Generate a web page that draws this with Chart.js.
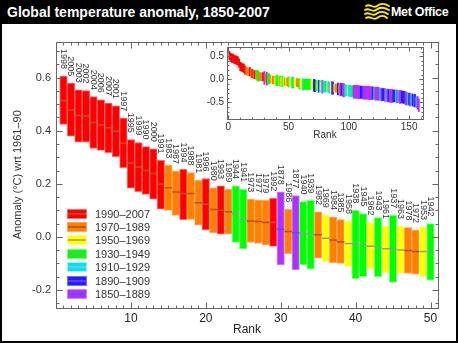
<!DOCTYPE html>
<html>
<head>
<meta charset="utf-8">
<title>Global temperature anomaly, 1850-2007</title>
<script src="https://cdn.jsdelivr.net/npm/chart.js@4.4.0/dist/chart.umd.min.js"></script>
<style>
  html, body { margin: 0; padding: 0; background: #000; }
  #page { position: relative; width: 458px; height: 343px; background: #000; overflow: hidden;
          font-family: "Liberation Sans", Arial, Helvetica, sans-serif; }
  #head { position: absolute; left: 0; top: 0; width: 458px; height: 24px; color: #fff; }
  #head .title { position: absolute; left: 7px; top: 4px; font-weight: bold; font-size: 14px; white-space: nowrap; }
  #head .logo { position: absolute; left: 364px; top: 3px; }
  #head .brand { position: absolute; left: 391px; top: 5px; font-weight: bold; font-size: 12.5px; letter-spacing: -0.3px; white-space: nowrap; }
  #panel { position: absolute; left: 2px; top: 24px; width: 454px; height: 317px; background: #fff; }
  #main { position: absolute; left: 0; top: 0; }
  #inset { position: absolute; left: 188px; top: 14px; }
</style>
</head>
<body>
<div id="page">
  <div id="head">
    <span class="title">Global temperature anomaly, 1850-2007</span>
    <svg class="logo" width="27" height="18" viewBox="0 0 27 18">
      <g fill="none" stroke="#ffee00" stroke-width="1.8" stroke-linecap="round">
        <path d="M2 3 C6 0, 9 6, 13 3 S20 0, 25 3"/>
        <path d="M1 7 C5 4, 8 10, 12 7 S19 4, 25 7"/>
        <path d="M1 11 C5 8, 8 14, 12 11 S19 8, 24 11"/>
        <path d="M2 15 C6 12, 9 18, 13 15 S20 12, 23 15"/>
      </g>
    </svg>
    <span class="brand">Met Office</span>
  </div>
  <div id="panel">
    <canvas id="main" width="454" height="317"></canvas>
    <canvas id="inset" width="245" height="104"></canvas>
  </div>
</div>
<script>
// ---- top 50 years, ranked warmest first ----
const rankYears = [1998, 2005, 2003, 2002, 2004, 2006, 2007, 2001, 1997, 1995,
                   1999, 1990, 2000, 1991, 1983, 1987, 1994, 1988, 1981, 1996,
                   1980, 1993, 1989, 1944, 1941, 1973, 1977, 1979, 1992, 1878,
                   1986, 1877, 1940, 1939, 1982, 1969, 1984, 1985, 1958, 1938,
                   1945, 1962, 1943, 1961, 1937, 1963, 1978, 1972, 1953, 1942];
const rankLow  = [0.424, 0.379, 0.357, 0.357, 0.333, 0.326, 0.317, 0.302, 0.261, 0.183,
                  0.170, 0.160, 0.142, 0.104, 0.100, 0.081, 0.065, 0.066, 0.044, 0.026,
                  0.016, 0.010, 0.010, -0.021, -0.045, -0.021, -0.025, -0.030, -0.036, -0.106,
                  -0.063, -0.124, -0.106, -0.121, -0.080, -0.093, -0.097, -0.100, -0.112, -0.157,
                  -0.150, -0.121, -0.150, -0.134, -0.172, -0.138, -0.138, -0.140, -0.150, -0.163];
const rankHigh = [0.606, 0.579, 0.554, 0.551, 0.528, 0.516, 0.504, 0.494, 0.447, 0.366,
                  0.355, 0.340, 0.332, 0.288, 0.270, 0.248, 0.254, 0.242, 0.213, 0.220,
                  0.185, 0.192, 0.179, 0.192, 0.179, 0.142, 0.139, 0.138, 0.145, 0.170,
                  0.104, 0.156, 0.133, 0.138, 0.094, 0.083, 0.075, 0.065, 0.060, 0.100,
                  0.088, 0.054, 0.073, 0.041, 0.081, 0.041, 0.035, 0.026, 0.037, 0.050];
const rankMid  = [0.514, 0.477, 0.457, 0.455, 0.431, 0.421, 0.411, 0.398, 0.353, 0.278,
                  0.263, 0.250, 0.239, 0.198, 0.185, 0.169, 0.163, 0.163, 0.129, 0.123,
                  0.103, 0.100, 0.095, 0.088, 0.066, 0.060, 0.058, 0.054, 0.054, 0.029,
                  0.020, 0.016, 0.012, 0.010, 0.008, -0.005, -0.012, -0.018, -0.025, -0.027,
                  -0.032, -0.035, -0.040, -0.045, -0.046, -0.049, -0.051, -0.055, -0.055, -0.057];
const yTickValues = [-0.2, 0.0, 0.2, 0.4, 0.6];
const xTickValues = [10, 20, 30, 40, 50];

// ---- every year 1850-2007 (inset) ----
const firstYear = 1850;
const annualAnom = [
  -0.44, -0.27, -0.27, -0.30, -0.29, -0.29, -0.36, -0.46, -0.41, -0.29,
  -0.36, -0.42, -0.56, -0.31, -0.51, -0.31, -0.29, -0.32, -0.29, -0.28,
  -0.30, -0.34, -0.28, -0.31, -0.37, -0.38, -0.35, 0.016, 0.029, -0.23,
  -0.24, -0.19, -0.22, -0.27, -0.38, -0.33, -0.30, -0.36, -0.27, -0.16,
  -0.36, -0.28, -0.36, -0.39, -0.35, -0.33, -0.15, -0.13, -0.30, -0.19,
  -0.14, -0.21, -0.33, -0.39, -0.45, -0.28, -0.22, -0.38, -0.43, -0.46,
  -0.42, -0.44, -0.36, -0.34, -0.16, -0.11, -0.32, -0.50, -0.37, -0.25,
  -0.24, -0.17, -0.26, -0.24, -0.25, -0.18, -0.07, -0.16, -0.15, -0.30,
  -0.11, -0.07, -0.11, -0.26, -0.11, -0.14, -0.11, -0.046, -0.027, 0.010,
  0.012, 0.066, -0.057, -0.040, 0.088, -0.032, -0.16, -0.10, -0.11, -0.11,
  -0.18, -0.07, -0.06, -0.055, -0.14, -0.15, -0.19, -0.06, -0.025, -0.07,
  -0.10, -0.045, -0.035, -0.049, -0.24, -0.16, -0.11, -0.10, -0.12, -0.005,
  -0.08, -0.19, -0.055, 0.060, -0.19, -0.07, -0.21, 0.058, -0.051, 0.054,
  0.103, 0.129, 0.008, 0.185, -0.012, -0.018, 0.020, 0.169, 0.163, 0.095,
  0.250, 0.198, 0.054, 0.100, 0.163, 0.278, 0.123, 0.353, 0.514, 0.263,
  0.239, 0.398, 0.455, 0.457, 0.431, 0.477, 0.421, 0.411
];
const insetXTicks = [0, 50, 100, 150];
const insetYTicks = [-0.5, 0.0, 0.5];

// ---- periods (key) ----
const periodLabels = ['1990–2007', '1970–1989', '1950–1969', '1930–1949', '1910–1929', '1890–1909', '1850–1889'];
const periodStart  = [1990, 1970, 1950, 1930, 1910, 1890, 1850];
const periodHalfWidth = [0.09, 0.085, 0.085, 0.11, 0.12, 0.13, 0.14];

// colours per period
const periodFill = ['#ff0000', '#ff7f00', '#ffff00', '#00ff00', '#00e4f0', '#1e1eff', '#b030ff'];
const periodEdge = ['#ff6a6a', '#ffaa5a', '#ffff8a', '#7cff7c', '#90f4ff', '#7070ff', '#d08cff'];
const periodLine = ['#c0501a', '#b84a0a', '#9aa060', '#80a880', '#7fc0ff', '#8040ff', '#5a4cff'];

const periodIndex = yr => periodStart.findIndex(s => yr >= s);

const FONT = '"Liberation Sans", Arial, Helvetica, sans-serif';
const INK = '#333';

// frame round the plot area with inward IDL-style ticks on all four sides
const frameTicks = {
  id: 'frameTicks',
  afterDraw(chart, args, o) {
    const {ctx, chartArea: a, scales: {x, y}} = chart;
    const L = Math.round(a.left) + 0.5, R = Math.round(a.right) + 0.5;
    const T = Math.round(a.top) + 0.5, B = Math.round(a.bottom) + 0.5;
    ctx.save();
    ctx.strokeStyle = o.color;
    ctx.lineWidth = 1;
    ctx.strokeRect(L, T, R - L, B - T);
    ctx.beginPath();
    const k0 = Math.ceil(y.min / o.yMinor - 1e-6), k1 = Math.floor(y.max / o.yMinor + 1e-6);
    for (let k = k0; k <= k1; k++) {
      const v = k * o.yMinor;
      const r = v / o.yMajor;
      const len = Math.abs(r - Math.round(r)) < 1e-6 ? o.major : o.minor;
      const py = Math.round(y.getPixelForValue(v)) + 0.5;
      ctx.moveTo(L, py); ctx.lineTo(L + len, py);
      ctx.moveTo(R, py); ctx.lineTo(R - len, py);
    }
    const j0 = Math.ceil(x.min / o.xMinor - 1e-6), j1 = Math.floor(x.max / o.xMinor + 1e-6);
    for (let j = j0; j <= j1; j++) {
      const v = j * o.xMinor;
      const r = v / o.xMajor;
      const len = Math.abs(r - Math.round(r)) < 1e-6 ? o.major : o.minor;
      const px = Math.round(x.getPixelForValue(v)) + 0.5;
      ctx.moveTo(px, B); ctx.lineTo(px, B - len);
      ctx.moveTo(px, T); ctx.lineTo(px, T + len);
    }
    ctx.stroke();
    ctx.restore();
  }
};

// year written above each bar, reading downwards
const yearLabels = {
  id: 'yearLabels',
  afterDatasetsDraw(chart) {
    const {ctx} = chart;
    const y = chart.scales.y;
    const bars = chart.getDatasetMeta(0).data;
    ctx.save();
    ctx.font = '9px ' + FONT;
    ctx.fillStyle = INK;
    ctx.textAlign = 'right';
    ctx.textBaseline = 'middle';
    bars.forEach((bar, i) => {
      ctx.save();
      ctx.translate(bar.x, y.getPixelForValue(rankHigh[i]) - 7);
      ctx.rotate(Math.PI / 2);
      ctx.fillText(String(rankYears[i]), 0, 0);
      ctx.restore();
    });
    ctx.restore();
  }
};

// colour key, bottom left of the plot
const periodKey = {
  id: 'periodKey',
  afterDraw(chart) {
    const {ctx, chartArea: a} = chart;
    ctx.save();
    ctx.font = '11px ' + FONT;
    ctx.textBaseline = 'middle';
    ctx.textAlign = 'left';
    const n = periodLabels.length;
    periodLabels.forEach((lab, i) => {
      const cy = Math.round(a.bottom - 13.5 - (n - 1 - i) * 13.4);
      const x0 = Math.round(a.left) + 11;
      ctx.fillStyle = periodFill[i];
      ctx.fillRect(x0, cy - 5, 20, 10);
      ctx.strokeStyle = periodEdge[i];
      ctx.lineWidth = 1;
      ctx.strokeRect(x0 + 0.5, cy - 4.5, 19, 9);
      ctx.strokeStyle = periodLine[i];
      ctx.lineWidth = 1.5;
      ctx.beginPath();
      ctx.moveTo(x0 + 1, cy); ctx.lineTo(x0 + 19, cy);
      ctx.stroke();
      ctx.fillStyle = INK;
      ctx.fillText(lab, x0 + 28, cy + 0.5);
    });
    ctx.restore();
  }
};

// ====== main ranked chart ======
const ranks = rankYears.map((_, i) => i + 1);
const rankPeriod = rankYears.map(periodIndex);

new Chart(document.getElementById('main'), {
  type: 'bar',
  data: {
    datasets: [{
      data: ranks.map((r, i) => ({x: r, y: [rankLow[i], rankHigh[i]]})),
      backgroundColor: rankPeriod.map(p => periodFill[p]),
      borderColor: rankPeriod.map(p => periodEdge[p]),
      borderWidth: 1,
      borderSkipped: false,
      barPercentage: 1,
      categoryPercentage: 1,
      order: 2
    }, {
      type: 'line',
      data: ranks.map((r, i) => ({x: r, y: rankMid[i]})),
      showLine: false,
      pointStyle: 'line',
      pointRadius: 3.75,
      pointBorderWidth: 1.5,
      pointBorderColor: rankPeriod.map(p => periodLine[p]),
      order: 1
    }]
  },
  options: {
    responsive: false,
    animation: false,
    events: [],
    layout: {padding: {top: 18, right: 18, left: 0, bottom: 0}},
    plugins: {
      legend: {display: false},
      tooltip: {enabled: false},
      frameTicks: {color: '#666', yMajor: 0.2, yMinor: 0.05, xMajor: 10, xMinor: 1, major: 6, minor: 3}
    },
    scales: {
      x: {
        type: 'linear', min: 0, max: 51, offset: false,
        grid: {display: false, drawTicks: false}, border: {display: false},
        afterBuildTicks: s => { s.ticks = xTickValues.map(v => ({value: v})); },
        ticks: {font: {family: FONT, size: 12}, color: '#222', padding: 4, maxRotation: 0, autoSkip: false},
        title: {display: true, text: 'Rank', font: {family: FONT, size: 12}, color: '#222', padding: {top: 0, bottom: 4}},
        afterFit: s => { s.height = 33.5; }
      },
      y: {
        min: -0.266, max: 0.734,
        grid: {display: false, drawTicks: false}, border: {display: false},
        afterBuildTicks: s => { s.ticks = yTickValues.map(v => ({value: v})); },
        ticks: {font: {family: FONT, size: 11}, color: INK, padding: 5, callback: v => v.toFixed(1)},
        title: {display: true, text: 'Anomaly (°C) wrt 1961–90', font: {family: FONT, size: 11}, color: INK, padding: {top: 9, bottom: 0}},
        afterFit: s => { s.width = 54; }
      }
    }
  },
  plugins: [frameTicks, yearLabels, periodKey]
});

// ====== inset: all years ranked ======
const insetOrder = annualAnom.map((_, i) => i).sort((a, b) => annualAnom[b] - annualAnom[a]);
const insetPeriod = insetOrder.map(i => periodIndex(firstYear + i));

new Chart(document.getElementById('inset'), {
  type: 'bar',
  data: {
    datasets: [{
      data: insetOrder.map((i, r) => {
        const h = periodHalfWidth[insetPeriod[r]];
        return {x: r + 1, y: [annualAnom[i] - h, annualAnom[i] + h]};
      }),
      backgroundColor: insetPeriod.map(p => periodFill[p]),
      borderWidth: 0,
      barPercentage: 1,
      categoryPercentage: 1
    }]
  },
  options: {
    responsive: false,
    animation: false,
    events: [],
    layout: {padding: {top: 5, right: 12, left: 0, bottom: 0}},
    plugins: {
      legend: {display: false},
      tooltip: {enabled: false},
      frameTicks: {color: '#666', yMajor: 0.5, yMinor: 0.1, xMajor: 50, xMinor: 10, major: 4, minor: 2}
    },
    scales: {
      x: {
        type: 'linear', min: -1, max: 161.5, offset: false,
        grid: {display: false, drawTicks: false}, border: {display: false},
        afterBuildTicks: s => { s.ticks = insetXTicks.map(v => ({value: v})); },
        ticks: {font: {family: FONT, size: 10}, color: INK, padding: 2, maxRotation: 0, autoSkip: false},
        title: {display: true, text: 'Rank', font: {family: FONT, size: 10}, color: INK, padding: {top: 0, bottom: 1}},
        afterFit: s => { s.height = 23; }
      },
      y: {
        min: -0.86, max: 0.70,
        grid: {display: false, drawTicks: false}, border: {display: false},
        afterBuildTicks: s => { s.ticks = insetYTicks.map(v => ({value: v})); },
        ticks: {font: {family: FONT, size: 10}, color: INK, padding: 3, callback: v => v.toFixed(1)},
        afterFit: s => { s.width = 37; }
      }
    }
  },
  plugins: [frameTicks]
});
</script>
</body>
</html>
